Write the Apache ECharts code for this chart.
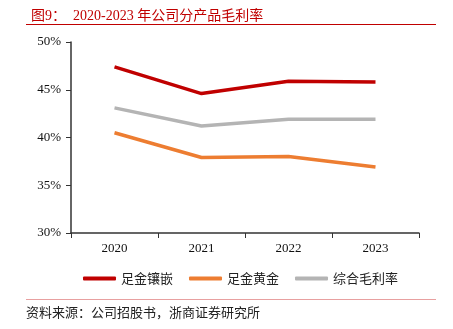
<!DOCTYPE html>
<html><head><meta charset="utf-8">
<script src="https://cdn.jsdelivr.net/npm/echarts@6/dist/echarts.min.js"></script>
<style>html,body{margin:0;padding:0;background:#fff}#c{width:453px;height:329px}</style>
</head><body><div id="c"></div>
<script>
const categories = ['2020', '2021', '2022', '2023'];
const inlay = [47.4, 44.6, 45.9, 45.8];
const gold = [40.5, 37.9, 38.0, 36.9];
const overall = [43.1, 41.2, 41.9, 41.9];
const seriesNames = ['足金镶嵌', '足金黄金', '综合毛利率'];
const colors = ['#C00000', '#ED7D31', '#B4B4B4'];

const chart = echarts.init(document.getElementById('c'), null, {renderer: 'canvas'});
const serif = '"Liberation Serif", "Times New Roman", "Noto Sans CJK SC", serif';
const mk = (name, data, color) => ({
  name, type: 'line', data, symbol: 'none', smooth: false,
  lineStyle: {color, width: 3.5}, itemStyle: {color}
});
chart.setOption({
  animation: false,
  title: {
    text: '图9：  2020-2023 年公司分产品毛利率',
    left: 26, top: 4,
    textStyle: {color: '#C00000', fontSize: 14, fontWeight: 'normal', fontFamily: serif}
  },
  grid: {left: 71, right: 34, top: 42, bottom: 96},
  legend: {
    data: seriesNames, top: 267, left: 78, itemGap: 16,
    itemWidth: 33, itemHeight: 4, icon: 'roundRect',
    textStyle: {fontSize: 13, color: '#222', fontFamily: '"Noto Sans CJK SC", sans-serif'}
  },
  xAxis: {
    type: 'category', data: categories, boundaryGap: true,
    axisLine: {lineStyle: {color: '#333', width: 1.5}},
    axisTick: {show: true, length: 5, lineStyle: {color: '#333'}},
    axisLabel: {color: '#111', fontSize: 13, margin: 9, fontFamily: serif}
  },
  yAxis: {
    type: 'value', min: 30, max: 50, interval: 5,
    axisLine: {show: true, lineStyle: {color: '#333', width: 1.5}},
    axisTick: {show: true, length: 5, lineStyle: {color: '#333'}},
    splitLine: {show: false},
    axisLabel: {color: '#111', fontSize: 13, margin: 10, fontFamily: serif, formatter: v => v + '%'}
  },
  graphic: [
    {type: 'line', shape: {x1: 26, y1: 24.5, x2: 436, y2: 24.5}, style: {stroke: '#C00000', lineWidth: 1}},
    {type: 'line', shape: {x1: 26, y1: 299.5, x2: 436, y2: 299.5}, style: {stroke: '#E8A0A0', lineWidth: 1}},
    {type: 'text', left: 26, top: 306, style: {text: '资料来源：公司招股书，浙商证券研究所', fill: '#222', fontSize: 13, fontFamily: '"Noto Sans CJK SC", sans-serif'}}
  ],
  series: [mk(seriesNames[0], inlay, colors[0]), mk(seriesNames[1], gold, colors[1]), mk(seriesNames[2], overall, colors[2])]
});
</script></body></html>
